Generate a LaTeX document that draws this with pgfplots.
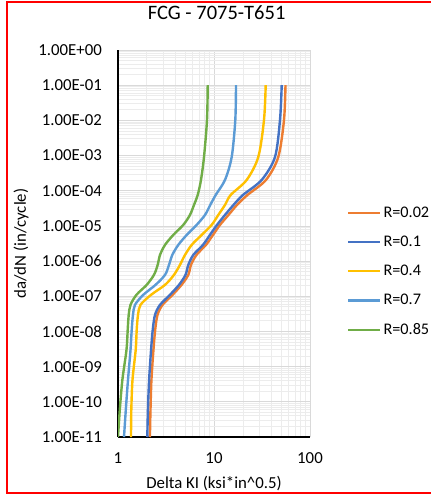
\documentclass[border=0pt]{standalone}
\usepackage{fontspec}
\setmainfont{Carlito}
\usepackage{pgfplots}
\pgfplotsset{compat=1.18}
\definecolor{cOrange}{RGB}{237,125,49}
\definecolor{cBlue}{RGB}{68,114,196}
\definecolor{cGold}{RGB}{255,192,0}
\definecolor{cLBlue}{RGB}{91,155,213}
\definecolor{cGreen}{RGB}{112,173,71}
\definecolor{majgrid}{RGB}{217,217,217}
\definecolor{mingrid}{RGB}{236,236,236}
\definecolor{frame}{RGB}{255,0,0}
\newcommand{\tk}{\fontsize{16.8bp}{20bp}\selectfont}
\newcommand{\lgfont}{\fontsize{16.2bp}{19bp}\selectfont}
\begin{document}
\begin{tikzpicture}
\path[use as bounding box, fill=white] (0bp,0bp) rectangle (431bp,495bp);
\draw[frame, line width=2bp] (7bp,2bp) rectangle (434bp,493bp);
\begin{axis}[
  at={(118bp,58bp)}, anchor=south west,
  scale only axis, width=192bp, height=387bp,
  xmode=log, ymode=log,
  xmin=1, xmax=100, ymin=1e-11, ymax=1,
  xtick={1,10,100}, xticklabels={1,10,100},
  ytick={1e-11,1e-10,1e-9,1e-8,1e-7,1e-6,1e-5,1e-4,1e-3,1e-2,1e-1,1},
  yticklabels={1.00E-11,1.00E-10,1.00E-09,1.00E-08,1.00E-07,1.00E-06,1.00E-05,1.00E-04,1.00E-03,1.00E-02,1.00E-01,1.00E+00},
  ticklabel style={font=\tk},
  yticklabel style={anchor=east, inner sep=0pt, xshift=-16bp},
  xticklabel style={anchor=north, inner sep=0pt, yshift=-15bp},
  major tick length=0pt, minor tick length=0pt,
  grid=both,
  major grid style={draw=majgrid, line width=0.8bp},
  minor grid style={draw=mingrid, line width=0.8bp},
  axis lines*=left,
  axis line style={-, black, line width=1.4bp},
  title={FCG - 7075-T651},
  title style={font=\fontsize{20.5bp}{24bp}\selectfont, at={(axis description cs:0.514,1.0646)}, anchor=base, yshift=0pt, inner sep=0pt},
  xlabel={Delta KI (ksi*in\textasciicircum 0.5)},
  xlabel style={font=\tk, at={(axis description cs:0.5,-0.1)}, anchor=north, inner sep=0pt},
  ylabel={da/dN (in/cycle)},
  ylabel style={font=\tk, at={(axis description cs:-0.505,0.5)}, anchor=center, inner sep=0pt},
  legend cell align=left,
  legend image code/.code={\draw[#1] (0bp,0bp) -- (32bp,0bp);},
  legend style={draw=none, fill=none, font=\lgfont, at={(axis description cs:1.1927,0.4276)}, anchor=west, inner sep=0pt, row sep=17.2bp, nodes={inner sep=0pt}, /tikz/every odd column/.append style={column sep=2bp}},
  every axis plot/.append style={line width=2.4bp, smooth, tension=0.5},
]
\addplot[cOrange] coordinates {
(55.56,1e-1) (53.6,1.03e-2) (46.75,9.12e-4) (34.8,2.03e-4) (22.34,7.60e-5) (17.36,3.95e-5)
(14.16,2.05e-5) (11.55,1.07e-5) (9.76,5.55e-6) (8.25,2.89e-6) (6.57,1.50e-6) (5.76,7.80e-7)
(5.40,4.06e-7) (4.59,2.11e-7) (3.70,1.10e-7) (2.91,5.70e-8) (2.58,2.96e-8) (2.44,1.11e-8)
(2.34,3.00e-9) (2.23,4.22e-10) (2.18,5.93e-11) (2.15,1e-11)};
\addlegendentry{R=0.02}
\addplot[cBlue] coordinates {
(50.73,1e-1) (48.70,1.03e-2) (43.19,9.12e-4) (31.4,2.03e-4) (20.05,7.60e-5) (15.97,3.95e-5)
(13.02,2.05e-5) (10.75,1.07e-5) (9.08,5.55e-6) (7.68,2.89e-6) (6.09,1.50e-6) (5.40,7.80e-7)
(5.05,4.06e-7) (4.32,2.11e-7) (3.48,1.10e-7) (2.74,5.70e-8) (2.43,2.96e-8) (2.30,1.11e-8)
(2.21,3.00e-9) (2.11,4.22e-10) (2.05,5.93e-11) (2.02,1e-11)};
\addlegendentry{R=0.1}
\addplot[cGold] coordinates {
(34.56,1e-1) (33.18,1.03e-2) (28.94,9.12e-4) (21.91,2.03e-4) (14.93,7.60e-5) (13.02,3.95e-5)
(11.09,2.05e-5) (9.46,1.07e-5) (7.45,5.55e-6) (5.86,2.89e-6) (4.99,1.50e-6) (4.42,7.80e-7)
(3.83,4.06e-7) (3.09,2.11e-7) (2.21,1.10e-7) (1.716,5.70e-8) (1.616,2.96e-8) (1.566,1.11e-8)
(1.529,3.00e-9) (1.416,4.22e-10) (1.376,5.93e-11) (1.366,1e-11)};
\addlegendentry{R=0.4}
\addplot[cLBlue] coordinates {
(16.95,1e-1) (16.67,1.03e-2) (15.29,9.12e-4) (13.02,2.03e-4) (10.42,7.60e-5) (9.15,3.95e-5)
(8.06,2.05e-5) (6.60,1.07e-5) (5.20,5.55e-6) (4.25,2.89e-6) (3.68,1.50e-6) (3.40,7.80e-7)
(3.09,4.06e-7) (2.46,2.11e-7) (1.835,1.10e-7) (1.503,5.70e-8) (1.433,2.96e-8) (1.389,1.11e-8)
(1.35,3.00e-9) (1.271,4.22e-10) (1.206,5.93e-11) (1.155,1e-11)};
\addlegendentry{R=0.7}
\addplot[cGreen] coordinates {
(8.60,1e-1) (8.455,1.03e-2) (7.87,9.12e-4) (7.32,2.03e-4) (6.77,7.60e-5) (6.19,3.95e-5)
(5.62,2.05e-5) (4.79,1.07e-5) (3.77,5.55e-6) (3.09,2.89e-6) (2.74,1.50e-6) (2.59,7.80e-7)
(2.37,4.06e-7) (1.99,2.11e-7) (1.558,1.10e-7) (1.35,5.70e-8) (1.293,2.96e-8) (1.262,1.11e-8)
(1.226,3.00e-9) (1.111,4.22e-10) (1.044,5.93e-11) (1.0,1e-11)};
\addlegendentry{R=0.85}
\end{axis}
\end{tikzpicture}
\end{document}
